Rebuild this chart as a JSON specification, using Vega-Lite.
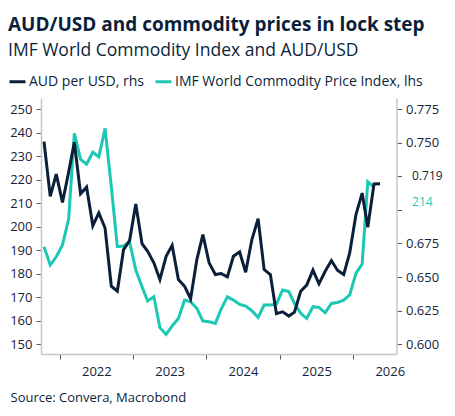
{
  "$schema": "https://vega.github.io/schema/vega-lite/v6.json",
  "width": 355.5,
  "height": 256,
  "autosize": {"type": "none"},
  "padding": {"left": 41, "top": 98, "right": 58.5, "bottom": 62},
  "background": "white",
  "title": {
    "text": "AUD/USD and commodity prices in lock step",
    "subtitle": "IMF World Commodity Index and AUD/USD",
    "anchor": "start",
    "frame": "group",
    "dx": -33,
    "offset": 13,
    "font": "Open Sans",
    "fontSize": 19,
    "fontWeight": "bold",
    "color": "#0b1f3a",
    "subtitleFont": "Open Sans",
    "subtitleFontSize": 17.5,
    "subtitleColor": "#0b1f3a",
    "subtitlePadding": 7
  },
  "config": {
    "view": {"stroke": null},
    "axis": {
      "grid": false,
      "domainColor": "#c6c6c6",
      "domainWidth": 1.5,
      "tickColor": "#5a5a5a",
      "tickSize": 5,
      "labelFont": "Open Sans",
      "labelFontSize": 13,
      "labelColor": "#14233c",
      "labelPadding": 4,
      "labelOverlap": false,
      "titleFont": "Open Sans"
    }
  },
  "data": {
    "values": [
      {"d": "2021-10-15", "aud": 0.7508, "imf": 191.5},
      {"d": "2021-11-15", "aud": 0.7100, "imf": 183.7},
      {"d": "2021-12-15", "aud": 0.7266, "imf": 187.2},
      {"d": "2022-01-15", "aud": 0.7055, "imf": 192.2},
      {"d": "2022-02-15", "aud": 0.7283, "imf": 203.5},
      {"d": "2022-03-15", "aud": 0.7503, "imf": 239.7},
      {"d": "2022-04-15", "aud": 0.7120, "imf": 228.6},
      {"d": "2022-05-15", "aud": 0.7169, "imf": 226.6},
      {"d": "2022-06-15", "aud": 0.6882, "imf": 231.6},
      {"d": "2022-07-15", "aud": 0.6977, "imf": 229.7},
      {"d": "2022-08-15", "aud": 0.6865, "imf": 241.8},
      {"d": "2022-09-15", "aud": 0.6432, "imf": 217.0},
      {"d": "2022-10-15", "aud": 0.6395, "imf": 191.5},
      {"d": "2022-11-15", "aud": 0.6704, "imf": 191.8},
      {"d": "2022-12-15", "aud": 0.6771, "imf": 193.6},
      {"d": "2023-01-15", "aud": 0.7043, "imf": 181.6},
      {"d": "2023-02-15", "aud": 0.6749, "imf": 174.5},
      {"d": "2023-03-15", "aud": 0.6692, "imf": 168.4},
      {"d": "2023-04-15", "aud": 0.6606, "imf": 170.2},
      {"d": "2023-05-15", "aud": 0.6482, "imf": 157.1},
      {"d": "2023-06-15", "aud": 0.6655, "imf": 154.2},
      {"d": "2023-07-15", "aud": 0.6736, "imf": 157.8},
      {"d": "2023-08-15", "aud": 0.6482, "imf": 161.0},
      {"d": "2023-09-15", "aud": 0.6432, "imf": 168.8},
      {"d": "2023-10-15", "aud": 0.6339, "imf": 168.1},
      {"d": "2023-11-15", "aud": 0.6630, "imf": 165.3},
      {"d": "2023-12-15", "aud": 0.6816, "imf": 159.9},
      {"d": "2024-01-15", "aud": 0.6606, "imf": 159.6},
      {"d": "2024-02-15", "aud": 0.6519, "imf": 158.9},
      {"d": "2024-03-15", "aud": 0.6526, "imf": 165.0},
      {"d": "2024-04-15", "aud": 0.6502, "imf": 170.2},
      {"d": "2024-05-15", "aud": 0.6655, "imf": 168.8},
      {"d": "2024-06-15", "aud": 0.6687, "imf": 167.0},
      {"d": "2024-07-15", "aud": 0.6536, "imf": 166.3},
      {"d": "2024-08-15", "aud": 0.6779, "imf": 164.3},
      {"d": "2024-09-15", "aud": 0.6934, "imf": 161.5},
      {"d": "2024-10-15", "aud": 0.6556, "imf": 166.7},
      {"d": "2024-11-15", "aud": 0.6519, "imf": 166.7},
      {"d": "2024-12-15", "aud": 0.6228, "imf": 167.1},
      {"d": "2025-01-15", "aud": 0.6242, "imf": 173.1},
      {"d": "2025-02-15", "aud": 0.6210, "imf": 172.4},
      {"d": "2025-03-15", "aud": 0.6239, "imf": 167.4},
      {"d": "2025-04-15", "aud": 0.6395, "imf": 163.2},
      {"d": "2025-05-15", "aud": 0.6440, "imf": 161.0},
      {"d": "2025-06-15", "aud": 0.6552, "imf": 166.0},
      {"d": "2025-07-15", "aud": 0.6450, "imf": 165.7},
      {"d": "2025-08-15", "aud": 0.6543, "imf": 163.4},
      {"d": "2025-09-15", "aud": 0.6623, "imf": 167.4},
      {"d": "2025-10-15", "aud": 0.6551, "imf": 167.8},
      {"d": "2025-11-15", "aud": 0.6519, "imf": 168.8},
      {"d": "2025-12-15", "aud": 0.6680, "imf": 171.0},
      {"d": "2026-01-15", "aud": 0.6964, "imf": 180.2},
      {"d": "2026-02-15", "aud": 0.7125, "imf": 184.1},
      {"d": "2026-03-15", "aud": 0.6870, "imf": 219.1},
      {"d": "2026-04-15", "aud": 0.7192, "imf": 216.7},
      {"d": "2026-05-15", "aud": 0.7194, "imf": null}
    ]
  },
  "layer": [
    {
      "layer": [
        {
          "mark": {"type": "line", "strokeWidth": 3},
          "encoding": {
            "x": {
              "field": "d",
              "type": "temporal",
              "scale": {"domain": [{"year": 2021, "month": 9, "date": 30}, {"year": 2026, "month": 8, "date": 5}]},
              "axis": {
                "orient": "bottom",
                "tickCount": {"interval": "year", "step": 1},
                "format": "%Y",
                "labelOffset": 36.65,
                "labelAlign": "center",
                "labelBound": false,
                "labelFlush": false,
                "labelOverlap": false,
                "labelPadding": 6,
                "title": "Source: Convera, Macrobond",
                "titleX": -31,
                "titleY": 43,
                "titleAlign": "left",
                "titleAnchor": "start",
                "titleBaseline": "middle",
                "titleFontWeight": "normal",
                "titleFontSize": 13,
                "titleColor": "#0b1f3a"
              }
            },
            "y": {
              "field": "imf",
              "type": "quantitative",
              "scale": {"domain": [145.9, 254.7], "nice": false, "zero": false},
              "axis": {"orient": "left", "values": [150, 160, 170, 180, 190, 200, 210, 220, 230, 240, 250], "labelOverlap": false, "title": null}
            },
            "color": {
              "datum": "IMF World Commodity Price Index, lhs",
              "type": "nominal",
              "scale": {"domain": ["AUD per USD, rhs", "IMF World Commodity Price Index, lhs"], "range": ["#0b1f3a", "#1cc8b4"]},
              "legend": {
                "orient": "none",
                "legendX": -33,
                "legendY": -26,
                "direction": "horizontal",
                "title": null,
                "padding": 0,
                "symbolType": "stroke",
                "symbolStrokeWidth": 3,
                "symbolSize": 256,
                "labelFont": "Open Sans",
                "labelFontSize": 14,
                "labelColor": "#0b1f3a",
                "labelLimit": 400,
                "labelOffset": 2,
                "columnPadding": 5
              }
            }
          }
        },
        {
          "data": {"values": [{"d": "2026-05-15", "v": 214, "t": "214"}]},
          "mark": {"type": "text", "align": "left", "baseline": "middle", "dx": 32, "dy": 8, "font": "Open Sans", "fontSize": 12, "color": "#1cc8b4"},
          "encoding": {
            "x": {"field": "d", "type": "temporal"},
            "y": {
              "field": "v",
              "type": "quantitative",
              "scale": {"domain": [145.9, 254.7], "nice": false, "zero": false},
              "axis": {"orient": "left", "values": [150, 160, 170, 180, 190, 200, 210, 220, 230, 240, 250], "labelOverlap": false, "title": null}
            },
            "text": {"field": "t"}
          }
        }
      ]
    },
    {
      "layer": [
        {
          "mark": {"type": "line", "strokeWidth": 3},
          "encoding": {
            "x": {"field": "d", "type": "temporal"},
            "y": {
              "field": "aud",
              "type": "quantitative",
              "scale": {"domain": [0.5928, 0.7832], "nice": false, "zero": false},
              "axis": {
                "orient": "right",
                "values": [0.6, 0.625, 0.65, 0.675, 0.7, 0.725, 0.75, 0.775],
                "format": ".3f",
                "labelOverlap": false,
                "labelExpr": "datum.value == 0.725 || datum.value == 0.7 ? '' : datum.label",
                "title": null
              }
            },
            "color": {"datum": "AUD per USD, rhs", "type": "nominal"}
          }
        },
        {
          "data": {"values": [{"d": "2026-05-15", "v": 0.719, "t": "0.719"}]},
          "mark": {"type": "text", "align": "left", "baseline": "middle", "dx": 32, "dy": -8, "font": "Open Sans", "fontSize": 12, "color": "#14233c"},
          "encoding": {
            "x": {"field": "d", "type": "temporal"},
            "y": {
              "field": "v",
              "type": "quantitative",
              "scale": {"domain": [0.5928, 0.7832], "nice": false, "zero": false},
              "axis": {
                "orient": "right",
                "values": [0.6, 0.625, 0.65, 0.675, 0.7, 0.725, 0.75, 0.775],
                "format": ".3f",
                "labelOverlap": false,
                "labelExpr": "datum.value == 0.725 || datum.value == 0.7 ? '' : datum.label",
                "title": null
              }
            },
            "text": {"field": "t"}
          }
        }
      ]
    }
  ],
  "resolve": {"scale": {"y": "independent"}}
}
